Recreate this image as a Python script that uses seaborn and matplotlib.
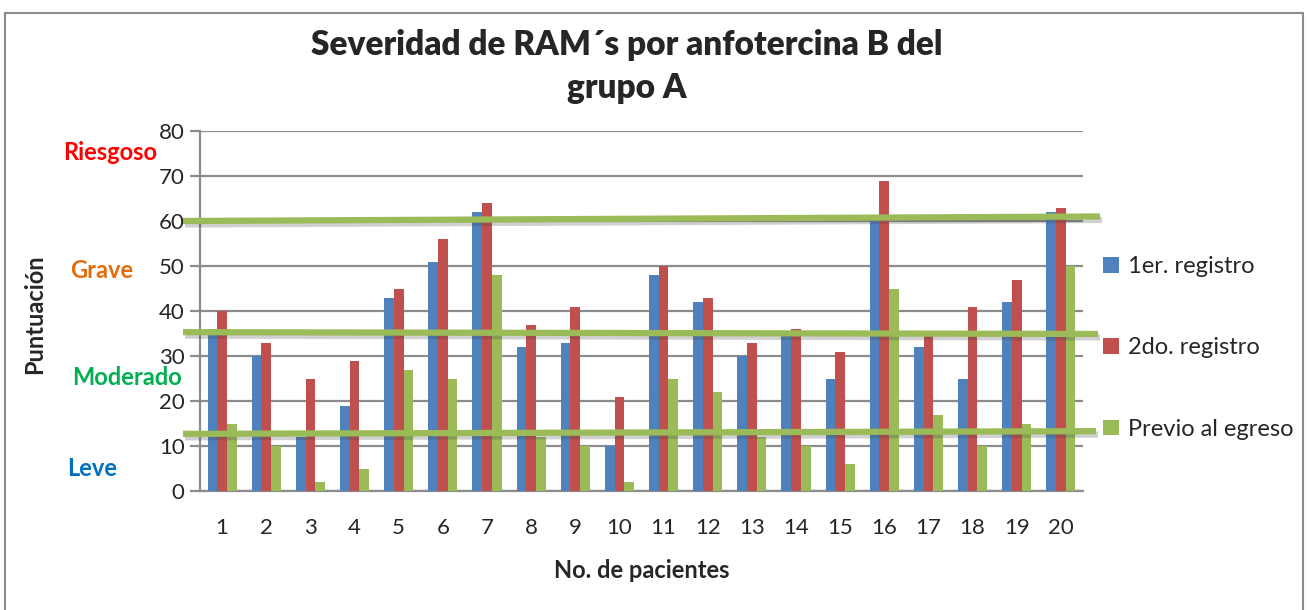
import numpy as np
import pandas as pd
import matplotlib
matplotlib.use("Agg")
import matplotlib.pyplot as plt
import matplotlib.patheffects as pe
from matplotlib.transforms import blended_transform_factory
import seaborn as sns

pacientes = [str(i) for i in range(1, 21)]
primer_registro = [36, 30, 12, 19, 43, 51, 62, 32, 33, 10, 48, 42, 30, 35, 25, 60, 32, 25, 42, 62]
segundo_registro = [40, 33, 25, 29, 45, 56, 64, 37, 41, 21, 50, 43, 33, 36, 31, 69, 35, 41, 47, 63]
previo_egreso = [15, 10, 2, 5, 27, 25, 48, 12, 10, 2, 25, 22, 12, 10, 6, 45, 17, 10, 15, 50]
series_names = ["1er. registro", "2do. registro", "Previo al egreso"]
colors = ["#4F81BD", "#C0504D", "#9BBB59"]

# threshold lines (left value, right value)
umbral_izq = [60, 35.3, 12.7]
umbral_der = [61, 34.9, 13.3]

niveles = ["Riesgoso", "Grave", "Moderado", "Leve"]
niveles_y = [75.3, 49.1, 25.3, 5.1]
niveles_col = ["#FF0000", "#E46C0A", "#00B050", "#0070C0"]

df = pd.DataFrame({
    "Paciente": pacientes * 3,
    "Serie": sum([[n] * 20 for n in series_names], []),
    "Valor": primer_registro + segundo_registro + previo_egreso,
})

sns.set_style("white")
plt.rcParams["font.family"] = ["Lato", "DejaVu Sans"]

fig = plt.figure(figsize=(13.09, 6.10), dpi=100)
ax = fig.add_axes([200 / 1309, 1 - 491 / 610, 883 / 1309, 360 / 610])

sns.barplot(data=df, x="Paciente", y="Valor", hue="Serie", palette=colors,
            width=0.66, ax=ax, saturation=1, errorbar=None, zorder=3,
            edgecolor="none")

ax.set_ylim(0, 80)
ax.set_xlim(-0.5, 19.5)
ax.set_yticks(range(0, 81, 10))
ax.yaxis.grid(True, color="#8C8C8C", linewidth=1.6, zorder=0)
ax.set_axisbelow(True)
for s in ["top", "right"]:
    ax.spines[s].set_visible(False)
ax.spines["left"].set_color("#8C8C8C")
ax.spines["left"].set_linewidth(1.6)
ax.spines["bottom"].set_color("#8C8C8C")
ax.spines["bottom"].set_linewidth(1.6)
ax.tick_params(axis="y", which="both", left=True, length=7, width=1.6, color="#8C8C8C",
               labelsize=16, pad=4)
ax.tick_params(axis="x", bottom=False, labelsize=16, pad=16)
ax.set_xlabel("No. de pacientes", fontsize=17, fontweight="bold", labelpad=15)
ax.set_ylabel("")

fig.text(35 / 1309, 1 - 314 / 610, "Puntuación", rotation=90, fontsize=17,
         fontweight="bold", ha="center", va="center")

tr = blended_transform_factory(ax.transAxes, ax.transData)
x_der = [(1100 - 200) / 883, (1098 - 200) / 883, (1096 - 200) / 883]
x_izq = (183 - 200) / 883
for yl, yr, xr in zip(umbral_izq, umbral_der, x_der):
    ax.plot([x_izq, xr], [yl, yr], transform=tr, color="#9BBB59", linewidth=4.5,
            clip_on=False, zorder=5, solid_capstyle="butt",
            path_effects=[pe.SimpleLineShadow(offset=(1.5, -2.5), alpha=0.25, shadow_color="#444444"),
                          pe.Normal()])

ytr = blended_transform_factory(fig.transFigure, ax.transData)
niveles_x = [110, 102, 127, 92]
for t, yv, c, xp in zip(niveles, niveles_y, niveles_col, niveles_x):
    ax.text(xp / 1309, yv, t, transform=ytr, color=c, fontsize=17, fontweight="bold",
            ha="center", va="center", clip_on=False)

fig.text(627 / 1309, 1 - 45 / 610, "Severidad de RAM´s por anfotercina B del",
         fontsize=24, fontweight="heavy", ha="center", va="center")
fig.text(627 / 1309, 1 - 88 / 610, "grupo A",
         fontsize=24, fontweight="heavy", ha="center", va="center")

handles, labels = ax.get_legend_handles_labels()
ax.legend(handles, labels, loc="center left", bbox_to_anchor=(1082 / 1309, 1 - 348 / 610),
          bbox_transform=fig.transFigure, frameon=False, fontsize=17,
          labelspacing=2.55, handlelength=0.65, handleheight=0.65, handletextpad=0.4)

# chart frame
fig.patches.append(plt.Rectangle((5 / 1309, -0.05), 1298 / 1309, 1.05 - 13 / 610,
                                 transform=fig.transFigure, fill=False,
                                 edgecolor="#8C8C8C", linewidth=1.5))

fig.savefig("out.png", dpi=100)
